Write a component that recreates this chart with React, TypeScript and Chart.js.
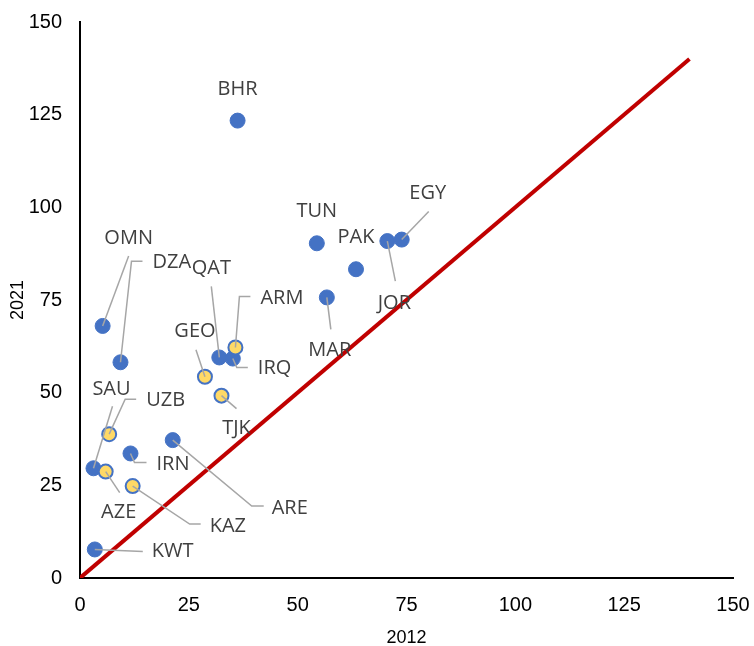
import React, { useEffect, useRef } from "react";
import { Chart, registerables } from "chart.js";

Chart.register(...registerables);

// ---- data ----
const blueCodes = ["BHR", "TUN", "PAK", "JOR", "EGY", "MAR", "OMN", "DZA", "QAT", "IRQ", "SAU", "IRN", "ARE", "KWT"];
const blueX = [36.2, 54.4, 63.4, 70.6, 73.9, 56.7, 5.2, 9.3, 32.0, 35.1, 3.1, 11.6, 21.3, 3.4];
const blueY = [123.4, 90.3, 83.3, 90.9, 91.3, 75.7, 68.0, 58.2, 59.5, 59.2, 29.6, 33.6, 37.2, 7.7];

const yellowCodes = ["ARM", "GEO", "TJK", "UZB", "AZE", "KAZ"];
const yellowX = [35.7, 28.7, 32.5, 6.7, 5.9, 12.1];
const yellowY = [62.2, 54.3, 49.2, 38.8, 28.7, 24.8];

const parityX = [0, 140];
const parityY = [0, 140];

const xTicks = [0, 25, 50, 75, 100, 125, 150];
const yTicks = [0, 25, 50, 75, 100, 125, 150];

const xTitle = "2012";
const yTitle = "2021";

// ---- label placement (pixel offsets from the point) ----
type LabelLayout = { dx: number; dy: number; align?: CanvasTextAlign; leader?: number[][] };
const labelLayout: Record<string, LabelLayout> = {
  BHR: { dx: 0, dy: -31 },
  TUN: { dx: 0, dy: -32 },
  PAK: { dx: 0, dy: -32 },
  JOR: { dx: 7, dy: 62, leader: [[8, 40]] },
  EGY: { dx: 26, dy: -46, leader: [[27, -28]] },
  MAR: { dx: 3, dy: 53, leader: [[4, 32]] },
  OMN: { dx: 26, dy: -88, leader: [[26, -70]] },
  DZA: { dx: 32, dy: -100, align: "left", leader: [[11, -101], [22, -101]] },
  QAT: { dx: -8, dy: -89, leader: [[-8, -71]] },
  IRQ: { dx: 25, dy: 10, align: "left", leader: [[4, 9], [15, 9]] },
  ARM: { dx: 25, dy: -49, align: "left", leader: [[4, -51], [15, -51]] },
  GEO: { dx: -10, dy: -45, leader: [[-9, -27]] },
  TJK: { dx: 15, dy: 33, leader: [[15, 13]] },
  SAU: { dx: 18, dy: -79, leader: [[19, -62]] },
  UZB: { dx: 37, dy: -34, align: "left", leader: [[16, -35], [27, -35]] },
  IRN: { dx: 26, dy: 11, align: "left", leader: [[4, 9], [16, 9]] },
  AZE: { dx: 13, dy: 41, leader: [[14, 21]] },
  ARE: { dx: 99, dy: 68, align: "left", leader: [[79, 66], [91, 66]] },
  KAZ: { dx: 77, dy: 40, align: "left", leader: [[57, 38], [68, 38]] },
  KWT: { dx: 57, dy: 2, align: "left", leader: [[48, 2]] },
};

const codesByDataset: string[][] = [blueCodes, yellowCodes];

const labelPlugin = {
  id: "pointLabels",
  afterDatasetsDraw(chart: any) {
    const ctx = chart.ctx as CanvasRenderingContext2D;
    ctx.save();
    for (let di = 0; di < 2; di++) {
      const meta = chart.getDatasetMeta(di);
      const codes = codesByDataset[di];
      meta.data.forEach((el: any, j: number) => {
        const code = codes[j];
        const lay = labelLayout[code];
        if (!lay) return;
        const x = el.x;
        const y = el.y;
        if (lay.leader && lay.leader.length) {
          ctx.beginPath();
          ctx.moveTo(x, y);
          lay.leader.forEach((p) => ctx.lineTo(x + p[0], y + p[1]));
          ctx.strokeStyle = "#A6A6A6";
          ctx.lineWidth = 1.5;
          ctx.stroke();
        }
        ctx.font = '20px "Open Sans"';
        ctx.fillStyle = "#404040";
        ctx.textAlign = lay.align || "center";
        ctx.textBaseline = "middle";
        ctx.fillText(code, x + lay.dx, y + lay.dy);
      });
    }
    ctx.restore();
  },
};

const zeroPadding = (scale: any) => {
  scale.paddingTop = 0;
  scale.paddingBottom = 0;
  scale.paddingLeft = 0;
  scale.paddingRight = 0;
};

export default function App() {
  const canvasRef = useRef<HTMLCanvasElement | null>(null);

  useEffect(() => {
    const canvas = canvasRef.current;
    if (!canvas) return;
    const tickFont = { family: '"Liberation Sans", Arial, sans-serif', size: 20 };
    const titleFont = { family: '"Liberation Sans", Arial, sans-serif', size: 18 };
    const chart = new Chart(canvas, {
      type: "scatter",
      data: {
        datasets: [
          {
            label: "blue",
            data: blueX.map((x, i) => ({ x, y: blueY[i] })),
            backgroundColor: "#4472C4",
            borderColor: "#4472C4",
            borderWidth: 1,
            pointRadius: 7.5,
            order: 2,
          },
          {
            label: "yellow",
            data: yellowX.map((x, i) => ({ x, y: yellowY[i] })),
            backgroundColor: "#FFD966",
            borderColor: "#4472C4",
            borderWidth: 2,
            pointRadius: 7,
            order: 1,
          },
          {
            type: "line",
            label: "parity",
            data: parityX.map((x, i) => ({ x, y: parityY[i] })),
            borderColor: "#C00000",
            borderWidth: 4,
            pointRadius: 0,
            showLine: true,
            fill: false,
            order: 3,
          } as any,
        ],
      },
      options: {
        animation: false,
        responsive: false,
        devicePixelRatio: 1,
        layout: { padding: { top: 22, right: 21, left: 7, bottom: 0 } },
        plugins: { legend: { display: false }, tooltip: { enabled: false } },
        scales: {
          x: {
            type: "linear",
            min: 0,
            max: 150,
            afterBuildTicks: (scale: any) => {
              scale.ticks = xTicks.map((v) => ({ value: v }));
            },
            afterFit: (scale: any) => {
              scale.height = 68;
              zeroPadding(scale);
            },
            grid: { display: false, drawTicks: false },
            border: { display: true, color: "#000000", width: 2 },
            ticks: { color: "#000000", font: tickFont, padding: 15, maxRotation: 0 },
            title: { display: true, text: xTitle, color: "#000000", font: titleFont, padding: { top: 0, bottom: -3 } },
          },
          y: {
            type: "linear",
            min: 0,
            max: 150,
            afterBuildTicks: (scale: any) => {
              scale.ticks = yTicks.map((v) => ({ value: v }));
            },
            afterFit: (scale: any) => {
              scale.width = 73;
              zeroPadding(scale);
            },
            grid: { display: false, drawTicks: false },
            border: { display: true, color: "#000000", width: 2 },
            ticks: { color: "#000000", font: tickFont, padding: 18 },
            title: { display: true, text: yTitle, color: "#000000", font: titleFont, padding: 0 },
          },
        },
      },
      plugins: [labelPlugin],
    });
    return () => chart.destroy();
  }, []);

  return (
    <div style={{ position: "absolute", left: 0, top: 0, width: 754, height: 646, background: "#ffffff" }}>
      <canvas ref={canvasRef} width={754} height={646} style={{ display: "block" }} />
    </div>
  );
}
